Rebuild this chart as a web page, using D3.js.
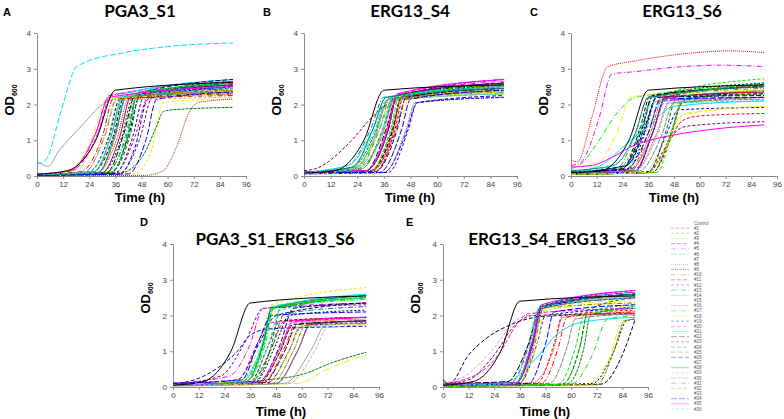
<!DOCTYPE html>
<html>
<head>
<meta charset="utf-8">
<script src="https://cdn.jsdelivr.net/npm/d3@7"></script>
<style>
  body { margin: 0; background: #fff; }
  text { font-family: Arial, 'Liberation Sans', sans-serif; }
</style>
</head>
<body>
<div id="chart"></div>
<script>
const names = ['Control', '#1', '#2', '#3', '#4', '#5', '#6', '#7', '#8', '#9', '#10', '#11', '#12',
  '#13', '#14', '#15', '#16', '#17', '#18', '#19', '#20', '#21', '#22', '#23', '#24', '#25', '#26',
  '#27', '#28', '#29', '#30', '#31', '#32', '#33', '#34', '#35', '#36']

const colors = ['#000000', '#ff0000', '#00dd00', '#eeee00', '#0000ff', '#ff00ff', '#00e5ee', '#000000',
  '#993300', '#008000', '#808000', '#000080', '#800080', '#008080', '#a0a0a0', '#000000', '#ff0000',
  '#00ee00', '#eeee00', '#0000ff', '#ff00ff', '#00e5ee', '#000000', '#800000', '#008000', '#808000',
  '#000080', '#800080', '#008080', '#b0b0b0', '#808080', '#ff0000', '#00ee00', '#eeee00', '#0000ff',
  '#ff00ff', '#00e5ee']

const dashes = [null, '3,2', '3,2', '3,2', '4,2', '5,2,1,2', '6,2', '4,2', '1,1', '3,1', '5,2,1,2',
  '4,2', '3,2', '5,2,1,2', null, '2,2', '1,1', '5,2,1,2', '6,2,1,2', '3,2', '4,2', null, '6,2', '3,2',
  '4,2', '4,1,1,1', '5,2', null, null, '3,2', '5,1', '5,2,1,2', '4,2', '5,2,1,2', '6,2', null, '3,2']

// legend rows that show no swatch in the figure
const hideSwatch = ['Control', '#7', '#15', '#27']

const timeTicks = [0, 12, 24, 36, 48, 60, 72, 84, 96]
const odTicks = [0, 1, 2, 3, 4]

// each curve: time (h), OD600 pairs
const curvesA = [
  [0, .05, 14, .15, 27, 1.0, 36, 2.4, 90, 2.62],
  [0, .03, 36, .1, 45, 1.1, 51, 2.2, 90, 2.45],
  [0, .04, 24, .12, 33, 1.1, 38, 2.15, 90, 2.35],
  [0, .02, 44, .05, 52, .6, 57, 1.95, 59, 2.08, 90, 2.15],
  [0, .02, 38, .05, 45, .8, 51, 2.15, 90, 2.5],
  [0, .05, 16, .15, 27, 1.2, 33, 2.25, 90, 2.55],
  [0, .33, 4, .45, 11, 1.8, 18, 3.05, 20, 3.12, 40, 3.45, 60, 3.62, 90, 3.72],
  [0, .04, 26, .12, 35, 1.1, 40, 2.2, 90, 2.45],
  [0, 0, 50, .02, 58, .15, 64, .8, 70, 1.8, 74, 2.05, 90, 2.15],
  [0, .03, 38, .08, 48, .5, 55, 1.4, 58, 1.8, 62, 1.85, 90, 1.92],
  [0, .04, 22, .12, 31, 1.1, 37, 2.2, 90, 2.3],
  [0, .03, 34, .1, 42, 1.1, 47, 2.2, 90, 2.55],
  [0, .03, 38, .08, 47, 1.0, 53, 2.2, 90, 2.4],
  [0, .04, 32, .1, 41, 1.1, 46, 2.2, 90, 2.6],
  [0, .42, 5, .27, 10, .7, 15, 1.05, 22, 1.5, 28, 1.9, 33, 2.1, 37, 2.2, 90, 2.35],
  [0, .03, 30, .1, 39, 1.1, 44, 2.2, 90, 2.5],
  [0, .04, 28, .1, 37, 1.1, 42, 2.15, 90, 2.3],
  [0, .03, 32, .1, 41, 1.2, 45, 2.2, 90, 2.55],
  [0, .04, 18, .15, 28, 1.2, 34, 2.2, 90, 2.4],
  [0, .02, 36, .08, 44, 1.1, 49, 2.2, 90, 2.5],
  [0, .05, 16, .15, 28, 1.2, 34, 2.25, 90, 2.65],
  [0, .04, 26, .12, 35, 1.3, 40, 2.3, 90, 2.7],
  [0, .03, 32, .1, 40, 1.2, 45, 2.25, 90, 2.6],
  [0, .04, 24, .12, 33, 1.1, 38, 2.15, 90, 2.3],
  [0, .03, 34, .1, 43, 1.2, 47, 2.25, 90, 2.65],
  [0, .04, 28, .1, 36, 1.1, 41, 2.2, 90, 2.4],
  [0, .03, 34, .1, 42, 1.2, 46, 2.3, 90, 2.7],
  [0, .03, 30, .1, 38, 1.1, 43, 2.2, 90, 2.55],
  [0, .04, 28, .1, 36, 1.2, 41, 2.25, 90, 2.6],
  [0, .04, 22, .12, 31, 1.1, 36, 2.1, 90, 2.2],
  [0, .04, 26, .1, 34, 1.1, 39, 2.2, 90, 2.35],
  [0, .04, 20, .12, 30, 1.1, 35, 2.15, 90, 2.25],
  [0, .03, 34, .1, 42, 1.2, 46, 2.3, 90, 2.6],
  [0, .04, 14, .15, 25, 1.0, 32, 2.15, 90, 2.3],
  [0, .02, 42, .06, 50, 1.0, 55, 2.15, 90, 2.35],
  [0, .05, 15, .15, 27, 1.2, 33, 2.2, 90, 2.5],
  [0, .04, 24, .12, 34, 1.2, 39, 2.2, 90, 2.45]
]

const curvesB = [
  [0, .08, 14, .15, 27, 1.0, 36, 2.4, 90, 2.55],
  [0, .1, 30, .12, 40, 1.2, 44, 2.2, 90, 2.5],
  [0, .1, 22, .15, 32, 1.1, 38, 2.1, 90, 2.3],
  [0, .08, 30, .12, 40, 1.2, 45, 2.2, 90, 2.45],
  [0, .1, 36, .1, 46, 1.2, 51, 2.05, 90, 2.25],
  [0, .12, 28, .15, 38, 1.3, 42, 2.25, 90, 2.65],
  [0, .08, 20, .2, 32, 1.3, 37, 2.1, 90, 2.3],
  [0, .1, 30, .15, 40, 1.3, 44, 2.25, 90, 2.55],
  [0, .06, 36, .1, 46, 1.3, 50, 2.05, 90, 2.2],
  [0, .1, 22, .25, 32, 1.2, 38, 2.15, 90, 2.4],
  [0, .1, 24, .2, 34, 1.3, 39, 2.2, 90, 2.5],
  [0, .08, 30, .15, 40, 1.3, 44, 2.25, 90, 2.6],
  [0, .1, 32, .12, 41, 1.3, 45, 2.25, 90, 2.7],
  [0, .1, 20, .3, 30, 1.3, 36, 2.2, 90, 2.45],
  [0, .1, 22, .2, 32, 1.1, 38, 2.15, 90, 2.35],
  [0, .08, 28, .15, 38, 1.3, 42, 2.25, 90, 2.55],
  [0, .1, 30, .12, 40, 1.2, 44, 2.2, 90, 2.45],
  [0, .1, 24, .25, 34, 1.3, 40, 2.15, 90, 2.35],
  [0, .08, 26, .2, 36, 1.2, 42, 2.15, 90, 2.4],
  [0, .06, 38, .1, 47, 1.3, 51, 2.05, 90, 2.2],
  [0, .12, 26, .2, 36, 1.4, 41, 2.25, 90, 2.7],
  [0, .1, 20, .3, 31, 1.3, 37, 2.2, 90, 2.5],
  [0, .1, 28, .15, 37, 1.3, 42, 2.25, 90, 2.6],
  [0, .15, 5, .2, 20, .9, 30, 1.6, 36, 1.95, 42, 2.1, 90, 2.55],
  [0, .1, 26, .2, 35, 1.2, 41, 2.2, 90, 2.45],
  [0, .1, 30, .12, 39, 1.2, 44, 2.2, 90, 2.5],
  [0, .1, 32, .12, 42, 1.3, 46, 2.2, 90, 2.45],
  [0, .1, 28, .15, 38, 1.3, 42, 2.25, 90, 2.6],
  [0, .1, 22, .25, 31, 1.3, 37, 2.2, 90, 2.45],
  [0, .08, 22, .2, 34, 1.0, 40, 2.1, 90, 2.3],
  [0, .1, 24, .2, 35, 1.1, 41, 2.15, 90, 2.35],
  [0, .1, 32, .12, 41, 1.2, 46, 2.15, 90, 2.4],
  [0, .1, 30, .15, 39, 1.3, 43, 2.25, 90, 2.55],
  [0, .08, 34, .1, 43, 1.2, 47, 2.15, 90, 2.35],
  [0, .1, 34, .1, 44, 1.3, 48, 2.15, 90, 2.4],
  [0, .12, 28, .15, 38, 1.4, 42, 2.3, 90, 2.7],
  [0, .1, 26, .2, 35, 1.2, 40, 2.2, 90, 2.5]
]

const curvesC = [
  [0, .1, 14, .15, 27, 1.0, 36, 2.4, 90, 2.55],
  [0, .05, 36, .1, 46, 1.0, 52, 1.55, 60, 1.68, 90, 1.75],
  [0, .1, 22, .2, 32, 1.2, 38, 2.2, 90, 2.72],
  [0, .05, 34, .1, 44, 1.0, 52, 1.7, 90, 1.95],
  [0, .08, 30, .15, 38, 1.2, 44, 2.2, 90, 2.55],
  [0, .3, 4, .35, 13, 1.6, 19, 2.85, 30, 2.92, 50, 3.05, 70, 3.1, 90, 3.06],
  [0, .1, 26, .2, 34, 1.3, 40, 2.1, 90, 2.2],
  [0, .1, 24, .2, 32, 1.3, 37, 2.25, 90, 2.5],
  [0, .08, 30, .15, 40, 1.2, 46, 2.1, 90, 2.3],
  [0, .05, 38, .1, 46, 1.1, 52, 2.1, 90, 2.4],
  [0, .1, 22, .25, 30, 1.2, 36, 2.2, 90, 2.45],
  [0, .1, 26, .3, 34, 1.3, 40, 2.2, 90, 2.3],
  [0, .05, 36, .1, 44, .8, 50, 1.3, 55, 1.4, 90, 1.52],
  [0, .1, 24, .25, 33, 1.2, 38, 2.2, 90, 2.5],
  [0, .1, 28, .2, 38, 1.2, 44, 2.15, 90, 2.4],
  [0, .1, 26, .15, 35, 1.3, 40, 2.25, 90, 2.6],
  [0, .45, 3, .4, 10, 1.7, 17, 3.05, 30, 3.22, 50, 3.4, 75, 3.5, 90, 3.45],
  [0, .2, 5, .35, 12, .9, 22, 1.8, 30, 2.2, 90, 2.55],
  [0, .1, 12, .3, 22, 1.3, 28, 2.22, 90, 2.4],
  [0, .08, 36, .12, 44, 1.1, 50, 1.85, 90, 1.92],
  [0, .1, 30, .2, 38, 1.2, 44, 2.1, 90, 2.2],
  [0, .1, 14, .3, 24, .8, 36, 1.4, 48, 1.95, 90, 2.1],
  [0, .1, 24, .2, 33, 1.3, 38, 2.25, 90, 2.5],
  [0, .05, 38, .1, 46, 1.0, 52, 2.05, 90, 2.2],
  [0, .05, 36, .1, 44, 1.2, 49, 2.15, 90, 2.3],
  [0, .1, 28, .15, 37, 1.2, 43, 2.2, 90, 2.55],
  [0, .1, 26, .3, 34, 1.2, 40, 2.2, 90, 2.25],
  [0, .1, 30, .15, 38, 1.2, 44, 2.2, 90, 2.35],
  [0, .15, 20, .3, 30, 1.2, 36, 2.2, 90, 2.5],
  [0, .1, 30, .15, 40, 1.1, 46, 2.05, 90, 2.2],
  [0, .1, 32, .15, 42, 1.1, 48, 2.05, 90, 2.15],
  [0, .1, 28, .2, 36, 1.2, 42, 2.2, 90, 2.35],
  [0, .05, 40, .1, 47, 1.2, 52, 2.2, 90, 2.6],
  [0, .05, 36, .1, 46, 1.0, 53, 1.75, 90, 1.95],
  [0, .1, 26, .2, 36, 1.2, 42, 2.15, 90, 2.2],
  [0, .25, 10, .3, 20, .55, 28, .82, 40, 1.05, 48, 1.15, 65, 1.3, 90, 1.43],
  [0, .1, 20, .3, 30, 1.1, 38, 2.0, 90, 2.1]
]

const curvesD = [
  [0, .05, 14, .15, 27, 1.0, 36, 2.35, 90, 2.55],
  [0, .05, 36, .12, 46, 1.1, 52, 1.85, 90, 1.95],
  [0, .05, 30, .15, 42, 1.2, 47, 2.2, 90, 2.5],
  [0, .05, 30, .15, 40, 1.1, 46, 2.3, 90, 2.78],
  [0, .1, 10, .2, 20, .5, 30, 1.0, 36, 1.45, 44, 1.62, 60, 1.66, 90, 1.7],
  [0, .1, 26, .3, 36, 1.2, 42, 2.2, 90, 2.35],
  [0, .05, 34, .15, 42, 1.2, 46, 2.25, 90, 2.55],
  [0, .05, 40, .1, 50, 1.0, 56, 1.75, 90, 1.85],
  [0, .05, 44, .12, 54, 1.0, 60, 1.8, 90, 1.9],
  [0, .05, 44, .2, 60, .35, 75, .7, 90, .97],
  [0, .05, 32, .15, 42, 1.2, 46, 2.2, 90, 2.5],
  [0, .1, 30, .2, 40, 1.2, 48, 2.0, 90, 2.35],
  [0, .08, 22, .3, 34, 1.3, 42, 2.2, 90, 2.3],
  [0, .05, 36, .12, 46, 1.1, 52, 2.05, 90, 2.25],
  [0, .03, 52, .1, 64, 1.0, 72, 1.8, 90, 1.85],
  [0, .05, 38, .12, 48, 1.2, 54, 2.0, 90, 2.15],
  [0, .05, 40, .12, 50, 1.0, 56, 1.8, 90, 1.95],
  [0, .05, 34, .15, 43, 1.2, 47, 2.2, 90, 2.45],
  [0, .03, 58, .1, 72, .5, 90, .9],
  [0, .05, 44, .12, 54, 1.0, 60, 1.7, 90, 1.8],
  [0, .1, 30, .2, 40, 1.3, 45, 1.8, 60, 1.85, 90, 1.95],
  [0, .05, 32, .15, 42, 1.3, 46, 2.2, 90, 2.6],
  [0, .05, 42, .12, 52, 1.0, 58, 1.75, 90, 1.85],
  [0, .05, 36, .15, 44, 1.1, 50, 1.85, 90, 1.95],
  [0, .05, 38, .15, 46, 1.2, 50, 2.2, 90, 2.5],
  [0, .05, 46, .1, 56, 1.0, 62, 1.75, 90, 1.85],
  [0, .05, 40, .15, 50, 1.2, 56, 2.2, 90, 2.35],
  [0, .05, 48, .1, 58, 1.0, 64, 1.75, 90, 1.85],
  [0, .05, 34, .15, 42, 1.2, 46, 2.2, 90, 2.55],
  [0, .03, 54, .1, 66, 1.0, 72, 1.65, 90, 1.75],
  [0, .05, 48, .1, 58, 1.0, 64, 1.7, 90, 1.78],
  [0, .05, 42, .12, 52, 1.1, 58, 1.85, 90, 1.95],
  [0, .05, 34, .15, 42, 1.1, 47, 2.25, 90, 2.5],
  [0, .05, 44, .1, 54, 1.0, 60, 1.7, 90, 1.75],
  [0, .1, 32, .2, 40, 1.3, 46, 2.0, 90, 2.1],
  [0, .05, 40, .15, 50, 1.1, 56, 1.85, 90, 1.95],
  [0, .05, 36, .12, 44, 1.1, 50, 2.15, 90, 2.5]
]

const curvesE = [
  [0, .05, 14, .15, 27, 1.0, 36, 2.4, 90, 2.55],
  [0, .05, 44, .1, 52, 1.2, 56, 2.0, 90, 2.15],
  [0, .03, 56, .08, 64, 1.1, 68, 2.1, 90, 2.3],
  [0, .05, 34, .1, 40, 1.2, 44, 2.1, 90, 2.4],
  [0, .08, 34, .12, 42, 1.3, 46, 2.25, 90, 2.6],
  [0, .1, 32, .12, 41, 1.3, 46, 2.25, 90, 2.65],
  [0, .05, 32, .12, 40, 1.2, 45, 2.2, 90, 2.55],
  [0, .02, 74, .08, 84, .9, 90, 1.9],
  [0, .05, 36, .1, 42, 1.1, 47, 2.2, 90, 2.5],
  [0, .03, 58, .08, 66, 1.1, 69, 2.0, 90, 2.25],
  [0, .05, 36, .12, 43, 1.2, 47, 2.2, 90, 2.35],
  [0, .2, 3, .1, 12, .9, 20, 1.35, 30, 1.7, 48, 1.98, 90, 2.05],
  [0, .08, 34, .1, 42, 1.2, 46, 2.25, 90, 2.7],
  [0, .05, 34, .12, 42, 1.3, 46, 2.3, 90, 2.65],
  [0, .05, 34, .1, 42, 1.2, 47, 2.25, 90, 2.55],
  [0, .02, 70, .1, 80, 1.0, 86, 1.85, 90, 1.9],
  [0, .05, 42, .12, 52, 1.1, 56, 1.95, 90, 2.1],
  [0, .03, 60, .08, 70, .9, 77, 1.9, 90, 2.0],
  [0, .02, 66, .06, 78, .8, 84, 1.85, 90, 1.9],
  [0, .05, 36, .12, 44, 1.2, 48, 2.0, 90, 2.2],
  [0, .1, 14, .3, 26, .9, 34, 1.7, 40, 2.05, 90, 2.2],
  [0, .05, 30, .15, 42, .7, 54, 1.5, 64, 1.8, 90, 1.95],
  [0, .1, 30, .15, 40, 1.2, 46, 2.25, 90, 2.6],
  [0, .08, 12, .2, 24, .9, 34, 1.75, 42, 2.0, 90, 2.05],
  [0, .03, 56, .08, 64, 1.1, 68, 2.15, 90, 2.5],
  [0, .03, 72, .06, 80, 1.0, 85, 1.85, 90, 1.9],
  [0, .05, 34, .12, 42, 1.3, 46, 2.2, 90, 2.6],
  [0, .05, 34, .1, 42, 1.2, 46, 2.2, 90, 2.5],
  [0, .05, 34, .12, 42, 1.3, 46, 2.25, 90, 2.6],
  [0, .1, 10, .3, 24, 1.1, 34, 1.85, 40, 2.0, 90, 2.02],
  [0, .05, 50, .1, 58, 1.1, 62, 1.9, 90, 2.05],
  [0, .05, 46, .1, 54, 1.1, 58, 1.95, 90, 2.1],
  [0, .03, 54, .08, 62, 1.1, 66, 2.0, 90, 2.2],
  [0, .05, 36, .12, 44, 1.2, 48, 2.2, 90, 2.45],
  [0, .05, 40, .1, 48, 1.2, 52, 2.1, 90, 2.3],
  [0, .08, 34, .12, 42, 1.3, 46, 2.3, 90, 2.7],
  [0, .05, 34, .1, 41, 1.2, 45, 2.2, 90, 2.5]
]

const panels = [
  { letter: 'A', title: 'PGA3_S1', curves: curvesA, x0: 37, x1: 246, y0: 33, y1: 176, tx: 140, ty: 17, lx: 3, ly: 16, ox: 14, oy: 100, xx: 140, xy: 202 },
  { letter: 'B', title: 'ERG13_S4', curves: curvesB, x0: 304, x1: 517, y0: 33, y1: 176, tx: 410, ty: 17, lx: 263, ly: 16, ox: 281, oy: 100, xx: 410, xy: 202 },
  { letter: 'C', title: 'ERG13_S6', curves: curvesC, x0: 571, x1: 777, y0: 33, y1: 176, tx: 682, ty: 17, lx: 530, ly: 16, ox: 548, oy: 100, xx: 674, xy: 202 },
  { letter: 'D', title: 'PGA3_S1_ERG13_S6', curves: curvesD, x0: 173, x1: 379, y0: 244, y1: 387, tx: 275, ty: 245, lx: 140, ly: 226, ox: 150, oy: 298, xx: 281, xy: 416 },
  { letter: 'E', title: 'ERG13_S4_ERG13_S6', curves: curvesE, x0: 443, x1: 648, y0: 244, y1: 387, tx: 552, ty: 245, lx: 406, ly: 226, ox: 420, oy: 298, xx: 545, xy: 416 }
]

const svg = d3
  .select('#chart')
  .append('svg')
  .attr('width', 784)
  .attr('height', 419)

const line = d3.line().curve(d3.curveMonotoneX)

function pairs(row) {
  const pts = []
  for (let i = 0; i < row.length; i += 2) pts.push([row[i], row[i + 1]])
  return pts
}

panels.forEach(function(p) {
  const x = d3.scaleLinear().domain([0, 96]).range([p.x0, p.x1])
  const y = d3.scaleLinear().domain([0, 4]).range([p.y1, p.y0])
  const g = svg.append('g')

  const xAxis = g
    .append('g')
    .attr('transform', `translate(0,${p.y1})`)
    .call(d3.axisBottom(x).tickValues(timeTicks).tickSize(3).tickPadding(2).tickSizeOuter(0))
  const yAxis = g
    .append('g')
    .attr('transform', `translate(${p.x0},0)`)
    .call(d3.axisLeft(y).tickValues(odTicks).tickFormat(d3.format('d')).tickSize(3).tickPadding(3).tickSizeOuter(0))

  ;[xAxis, yAxis].forEach(function(a) {
    a.selectAll('path, line').attr('stroke', '#8c8c8c')
    a.selectAll('text').attr('font-size', 8).attr('fill', '#444')
  })

  // series #1..#36 first, control on top
  const order = d3.range(1, names.length).concat([0])
  g.append('g')
    .selectAll('path')
    .data(order)
    .enter()
    .append('path')
    .attr('d', i => line.x(d => x(d[0])).y(d => y(d[1]))(pairs(p.curves[i])))
    .attr('fill', 'none')
    .attr('stroke', i => colors[i])
    .attr('stroke-width', 1)
    .attr('stroke-dasharray', i => dashes[i])

  g.append('text')
    .text(p.title)
    .attr('x', p.tx)
    .attr('y', p.ty)
    .attr('text-anchor', 'middle')
    .attr('font-size', 17)
    .attr('font-weight', 'bold')
    .style('font-family', 'Lato, sans-serif')

  g.append('text')
    .text(p.letter)
    .attr('x', p.lx)
    .attr('y', p.ly)
    .attr('font-size', 11)
    .attr('font-weight', 'bold')

  const od = g
    .append('text')
    .attr('transform', `translate(${p.ox},${p.oy}) rotate(-90)`)
    .attr('text-anchor', 'middle')
    .attr('font-size', 13)
    .attr('font-weight', 'bold')
  od.append('tspan').text('OD')
  od.append('tspan').text('600').attr('font-size', 7).attr('dy', 3)

  g.append('text')
    .text('Time (h)')
    .attr('x', p.xx)
    .attr('y', p.xy)
    .attr('text-anchor', 'middle')
    .attr('font-size', 13)
    .attr('font-weight', 'bold')
})

// legend
const legend = svg.append('g')
const legendY = d3.scalePoint().domain(names).range([223, 409])

legend
  .selectAll('g')
  .data(names)
  .enter()
  .append('g')
  .each(function(d, i) {
    const row = d3.select(this)
    if (!hideSwatch.includes(d)) {
      row
        .append('line')
        .attr('x1', 671)
        .attr('x2', 689)
        .attr('y1', legendY(d))
        .attr('y2', legendY(d))
        .attr('stroke', colors[i])
        .attr('stroke-width', 1)
        .attr('stroke-dasharray', dashes[i])
        .attr('opacity', 0.35)
    }
    row
      .append('text')
      .text(d)
      .attr('x', 694)
      .attr('y', legendY(d) + 1.5)
      .attr('font-size', 4.5)
      .attr('fill', '#555')
  })
</script>
</body>
</html>
